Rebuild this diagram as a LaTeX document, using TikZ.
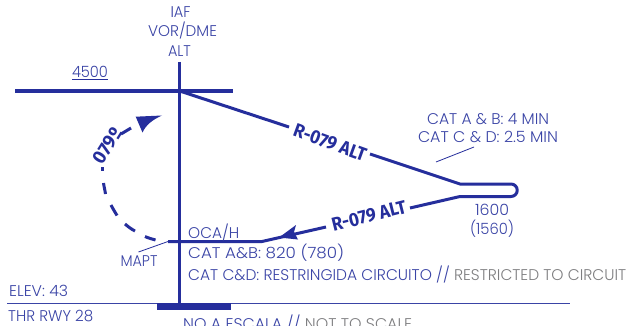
\documentclass[tikz,border=0pt]{standalone}
\usepackage{fontspec}
\setmainfont{Poppins Light}
\newfontfamily\boldlab{Fira Sans Bold}
\usetikzlibrary{calc}
\definecolor{chartblue}{HTML}{252E9C}
\definecolor{textblue}{HTML}{3A44A6}
\definecolor{chartgrey}{HTML}{7E7E80}
\newcommand{\fitw}[2]{\resizebox{#1pt}{\height}{#2}}
\tikzset{
  heavy/.style={draw=chartblue,line width=4pt},
  medium/.style={draw=chartblue,line width=3pt},
  thin line/.style={draw=chartblue,line width=0.8pt},
  dashpart/.style={draw=chartblue,line width=3pt},
  lab/.style={text=textblue,inner sep=0pt,font=\fontsize{15.5}{17}\selectfont},
  llab/.style={lab,anchor=west},
  radial/.style={text=chartblue,inner sep=0pt,font=\boldlab\fontsize{19}{21}\selectfont}
}
\begin{document}
\begin{tikzpicture}[x=1pt,y=-1pt]
\useasboundingbox (0,0) rectangle (628,326);
\clip (0,0) rectangle (628,326);
\fill[white] (0,0) rectangle (628,326);
% key points
\coordinate (vtop) at (179.7,62);
\coordinate (vbot) at (179.7,304);
\coordinate (hl) at (15,91);
\coordinate (hr) at (233,91);
\coordinate (fix) at (179.7,91);
\coordinate (o1) at (289,127);
\coordinate (o2) at (370,154);
\coordinate (turn1) at (460,184);
\coordinate (turn2) at (460,196.5);
\coordinate (i1) at (410,208);
\coordinate (i2) at (326,227);
\coordinate (i3) at (262,241.5);
\coordinate (mapt) at (168,241.5);
\coordinate (gl) at (7,303);
\coordinate (gr) at (570,303);
% lines
\draw[medium] (vtop) -- (vbot);
\draw[heavy] (hl) -- (hr);
\draw[medium] (fix) -- (o1);
\draw[medium,line join=round] (o2) -- (turn1) -- (511,184) arc[start angle=-90,end angle=90,radius=6.25] -- (turn2) -- (i1);
\draw[medium] (i2) -- (i3) -- (mapt);
\draw[draw=textblue,line width=0.8pt] (gl) -- (gr);
\fill[chartblue] (157,303) rectangle (231,310);
% inbound arrowhead
\fill[chartblue] (279,237.5) -- (296,225) -- (294,232) -- (298,239.5) -- cycle;
% procedure turn
\draw[dashpart] (155.5,240) .. controls (152,239) and (148,238) .. (145,236.5);
\draw[dashpart] (135,231) .. controls (131,229) and (128,226.5) .. (125,224);
\draw[dashpart] (117,215.5) .. controls (115,212) and (113,209) .. (111,205);
\draw[dashpart] (105.5,194) .. controls (105,190) and (104,187) .. (103.5,183);
\draw[dashpart] (102,167) -- (102,171);
\draw[dashpart] (121,134) -- (131,128);
\fill[chartblue] (162,115.5) -- (135.7,116.7) -- (142.5,132.5) .. controls (146,125) and (152,120) .. (162,115.5);
% leaders
\draw[thin line] (mapt) -- (138.5,252);
\draw[thin line] (436,162) -- (474,147);
% texts
\node[lab] (iaf) at (180.5,12) {\fitw{20}{\textcolor{chartblue}{I}AF}};
\node[lab] (vor) at (182.5,31) {\fitw{69}{VOR/DME}};
\node[lab] (alt) at (179.5,51) {\fitw{23}{ALT}};
\node[lab] (fourk) at (90,72) {\fitw{36}{4500}};
\draw[thin line] ($(fourk.center)+(-18,7.5)$) -- ($(fourk.center)+(18,7.5)$);
\node[radial,rotate=-20] (r1) at (330,143) {\fitw{76}{R-079 ALT}};
\node[radial,rotate=14] (r2) at (369,216) {\fitw{76}{R-079 ALT}};
\node[radial,rotate=58] (deg) at (107.5,146) {\fitw{38}{079º}};
\node[lab] (cat1) at (488,119) {\fitw{122}{CAT A \& B: 4 MIN}};
\node[lab] (cat2) at (488,137) {\fitw{140}{CAT C \& D: 2.5 MIN}};
\node[lab] (h1) at (492,210) {\fitw{34}{1600}};
\node[lab] (h2) at (492,229) {\fitw{44}{(1560)}};
\node[llab] (oca) at (188,232) {\fitw{51}{OCA/H}};
\node[llab] (cata) at (188,253) {\fitw{156}{CAT A\&B: 820 (780)}};
\node[llab] (catc) at (188,274) {\fitw{438}{CAT C\&D: RESTRINGIDA CIRCUITO // \textcolor{chartgrey}{RESTRICTED TO CIRCUIT}}};
\node[lab] (mp) at (139,261.5) {\fitw{37}{MAPT}};
\node[llab] (elev) at (9,291) {\fitw{59}{ELEV: 43}};
\node[llab] (thr) at (8,316) {\fitw{85}{THR RWY 28}};
\node[llab] (ns) at (183,323) {\fitw{229}{NO A ESCALA // \textcolor{chartgrey}{NOT TO SCALE}}};
\end{tikzpicture}
\end{document}
